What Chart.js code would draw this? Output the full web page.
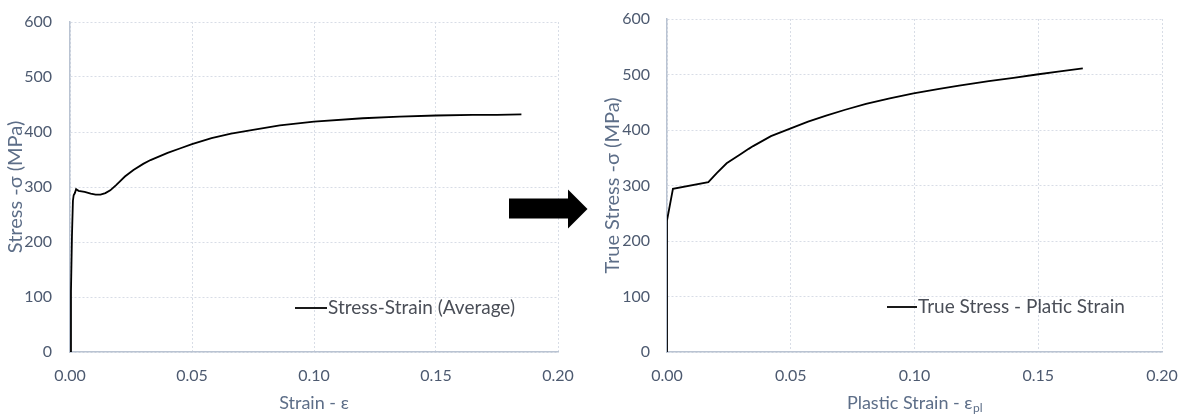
<!DOCTYPE html>
<html><head><meta charset="utf-8">
<script src="https://cdn.jsdelivr.net/npm/chart.js@4.4.1/dist/chart.umd.min.js"></script>
<style>
html,body{margin:0;padding:0;background:#fff;width:1185px;height:415px;overflow:hidden}
#c1{position:absolute;left:0;top:0}
#c2{position:absolute;left:590px;top:0}
#arrow{position:absolute;left:0;top:0;pointer-events:none}
</style></head><body>
<canvas id="c1" width="590" height="415"></canvas>
<canvas id="c2" width="595" height="415"></canvas>
<svg id="arrow" width="1185" height="415"><polygon points="509,198.5 568,198.5 568,189.5 587.5,209 568,228.5 568,218.5 509,218.5" fill="#000"/></svg>
<script>
// ---- data: engineering stress-strain (average) ----
const strainA = [0, 0.0004, 0.0008, 0.0012, 0.0015, 0.0020, 0.0025, 0.0035, 0.0060, 0.0085, 0.0105, 0.0125, 0.0145, 0.0165, 0.0190, 0.0225, 0.0260, 0.0300, 0.0330, 0.0400, 0.0450, 0.0500, 0.0580, 0.0660, 0.0750, 0.0860, 0.1000, 0.1200, 0.1350, 0.1500, 0.1650, 0.1750, 0.1850];
const stressA = [0, 110, 210, 275, 285, 289, 296, 293, 291, 288, 286, 286, 289, 294, 304, 319, 331, 342, 349, 362, 370, 378, 389, 397, 404, 412, 419, 425, 428, 430, 431, 431, 432];
// ---- data: true stress - plastic strain ----
const strainB = [0, 0, 0.0024, 0.0167, 0.0200, 0.0241, 0.0300, 0.0330, 0.0348, 0.0420, 0.0500, 0.0570, 0.0643, 0.0720, 0.0804, 0.0900, 0.0996, 0.1100, 0.1180, 0.1300, 0.1400, 0.1494, 0.1580, 0.1680];
const stressB = [0, 237, 294, 306, 322, 340, 357, 366, 371, 389, 403, 415, 426, 436.5, 447, 457, 466, 474, 480, 488, 494, 500, 505, 511];
// ---- labels ----
const legendA = 'Stress-Strain (Average)';
const legendB = 'True Stress - Platic Strain';
const xTitleA = 'Strain - ε';
const xTitleB = 'Plastic Strain - ε';
const xTitleBSub = 'pl';
const yTitleA = 'Stress -σ (MPa)';
const yTitleB = 'True Stress -σ (MPa)';
const xTicks = [0, 0.05, 0.10, 0.15, 0.20];
const yTicks = [0, 100, 200, 300, 400, 500, 600];

const FONT = 'Lato';
const tickColor = '#4d5a70';
const titleColor = '#5d6e88';
const legendColor = '#4a4e57';
const gridColor = '#d8dde6';
const axisColor = '#b9c3d2';
const TICK_SIZE = 16, XTITLE_SIZE = 18, YTITLE_SIZE = 20, LEGEND_SIZE = 19;

const insideLegend = {
  id: 'insideLegend',
  afterDraw(chart, args, opts) {
    if (!opts || !opts.text) return;
    const ctx = chart.ctx, ca = chart.chartArea;
    const y = ca.bottom - opts.dy;
    ctx.save();
    ctx.strokeStyle = '#000'; ctx.lineWidth = 1.8;
    ctx.beginPath(); ctx.moveTo(ca.left + opts.x1, y); ctx.lineTo(ca.left + opts.x2, y); ctx.stroke();
    ctx.fillStyle = legendColor;
    ctx.font = opts.size + 'px ' + FONT;
    ctx.textBaseline = 'middle'; ctx.textAlign = 'left';
    ctx.fillText(opts.text, ca.left + opts.x2 + 1, y);
    ctx.restore();
  }
};
const subTitle = {
  id: 'subTitle',
  afterDraw(chart, args, opts) {
    if (!opts || !opts.text) return;
    const ctx = chart.ctx, ca = chart.chartArea;
    ctx.save();
    ctx.fillStyle = titleColor;
    ctx.font = opts.size + 'px ' + FONT;
    const w1 = ctx.measureText(opts.text).width;
    ctx.font = opts.subSize + 'px ' + FONT;
    const w2 = ctx.measureText(opts.sub).width;
    const x0 = (ca.left + ca.right) / 2 - (w1 + w2) / 2;
    ctx.textBaseline = 'alphabetic'; ctx.textAlign = 'left';
    ctx.font = opts.size + 'px ' + FONT;
    ctx.fillText(opts.text, x0, opts.baseline);
    ctx.font = opts.subSize + 'px ' + FONT;
    ctx.fillText(opts.sub, x0 + w1 + 0.5, opts.baseline + 3);
    ctx.restore();
  }
};

function pts(xs, ys) { return xs.map((x, i) => ({x: x, y: ys[i]})); }

function makeScales(o) {
  return {
    x: {
      type: 'linear', min: xTicks[0], max: xTicks[xTicks.length - 1],
      afterBuildTicks(s) { s.ticks = xTicks.map(v => ({value: v})); },
      ticks: {callback: v => Number(v).toFixed(2), padding: 0, color: tickColor, font: {family: FONT, size: TICK_SIZE}, maxRotation: 0, autoSkip: false},
      grid: {color: gridColor, lineWidth: 1, drawTicks: true, tickLength: 14, tickColor: 'rgba(0,0,0,0)'},
      border: {color: axisColor, width: 1.5, dash: [2, 2]},
      title: {display: !!o.xTitle, text: o.xTitle || '', color: titleColor, font: {family: FONT, size: XTITLE_SIZE}, padding: {top: 0, bottom: 1}},
      afterFit(s) { s.height = 63; }
    },
    y: {
      type: 'linear', min: yTicks[0], max: yTicks[yTicks.length - 1],
      afterBuildTicks(s) { s.ticks = yTicks.map(v => ({value: v})); },
      ticks: {padding: 0, color: tickColor, font: {family: FONT, size: TICK_SIZE}},
      grid: {color: gridColor, lineWidth: 1, drawTicks: true, tickLength: o.yPad, tickColor: 'rgba(0,0,0,0)'},
      border: {color: axisColor, width: 1.5, dash: [2, 2]},
      title: {display: true, text: o.yTitle, color: titleColor, font: {family: FONT, size: YTITLE_SIZE}, padding: {top: o.yTitlePad, bottom: 0}},
      afterFit(s) { s.width = o.yWidth; }
    }
  };
}

function ds(label, xs, ys) {
  return {label: label, data: pts(xs, ys), showLine: true, borderColor: '#000', backgroundColor: '#000',
    borderWidth: 1.8, pointRadius: 0, pointHoverRadius: 0, tension: 0, fill: false};
}

new Chart(document.getElementById('c1'), {
  type: 'scatter',
  data: {datasets: [ds(legendA, strainA, stressA)]},
  options: {
    responsive: false, animation: false, devicePixelRatio: 1,
    layout: {padding: {left: 0, right: 32, top: 22, bottom: 0}},
    plugins: {legend: {display: false}, tooltip: {enabled: false},
      insideLegend: {text: legendA, x1: 225, x2: 257, dy: 44, size: LEGEND_SIZE}},
    scales: makeScales({xTitle: xTitleA, yTitle: yTitleA, yPad: 18, yWidth: 70, yTitlePad: 4})
  },
  plugins: [insideLegend]
});

new Chart(document.getElementById('c2'), {
  type: 'scatter',
  data: {datasets: [ds(legendB, strainB, stressB)]},
  options: {
    responsive: false, animation: false, devicePixelRatio: 1,
    layout: {padding: {left: 0, right: 23, top: 19, bottom: 0}},
    plugins: {legend: {display: false}, tooltip: {enabled: false},
      insideLegend: {text: legendB, x1: 220, x2: 250, dy: 45, size: LEGEND_SIZE},
      subTitle: {text: xTitleB, sub: xTitleBSub, size: XTITLE_SIZE, subSize: 12, baseline: 409}},
    scales: makeScales({xTitle: null, yTitle: yTitleB, yPad: 17, yWidth: 77, yTitlePad: 11})
  },
  plugins: [insideLegend, subTitle]
});
</script>
</body></html>
